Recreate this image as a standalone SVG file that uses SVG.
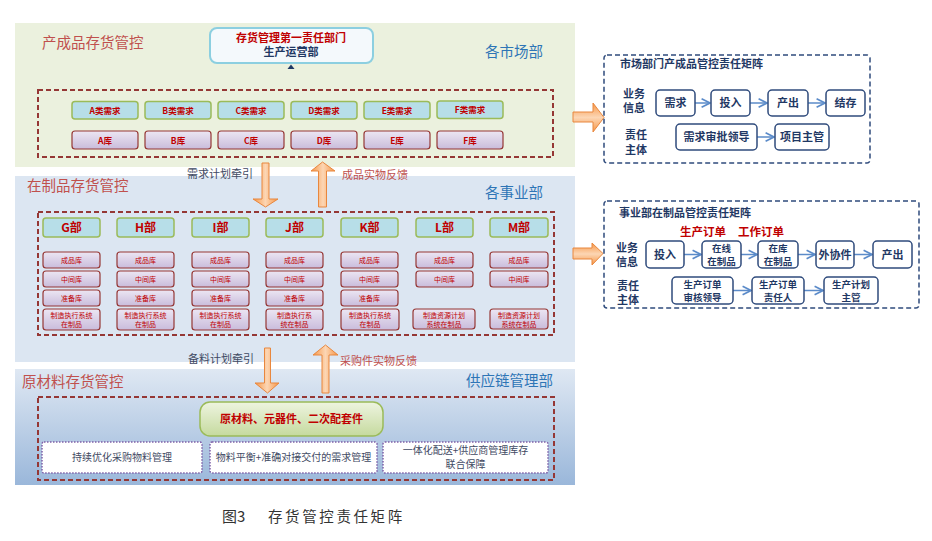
<svg xmlns="http://www.w3.org/2000/svg" width="932" height="541" viewBox="0 0 932 541">
<defs>
<linearGradient id="gPurple" x1="0" y1="0" x2="0" y2="1"><stop offset="0" stop-color="#ece6f3"/><stop offset="1" stop-color="#c9bcdb"/></linearGradient>
<linearGradient id="gP3" x1="0" y1="0" x2="0" y2="1"><stop offset="0" stop-color="#dfe8f3"/><stop offset="1" stop-color="#9ab7da"/></linearGradient>
<linearGradient id="gGreen" x1="0" y1="0" x2="0" y2="1"><stop offset="0" stop-color="#eef4e0"/><stop offset="1" stop-color="#c5da9e"/></linearGradient>
<linearGradient id="gOrV" x1="0" y1="0" x2="1" y2="0"><stop offset="0" stop-color="#f79646"/><stop offset="0.5" stop-color="#fcd6b4"/><stop offset="1" stop-color="#f79646"/></linearGradient>
<linearGradient id="gOrH" x1="0" y1="0" x2="0" y2="1"><stop offset="0" stop-color="#f79646"/><stop offset="0.5" stop-color="#fcd6b4"/><stop offset="1" stop-color="#f79646"/></linearGradient>
<marker id="ar" viewBox="0 0 10 10" refX="9" refY="5" markerWidth="7" markerHeight="7" orient="auto"><path d="M1,1 L9,5 L1,9" fill="none" stroke="#5b8bc9" stroke-width="1.6"/></marker>
<style>
text{font-family:"Noto Sans CJK SC","Noto Sans",sans-serif}
.ttl{font-size:14.5px;fill:#c0504d}
.dep{font-size:14.5px;fill:#2e75b6}
.dash{fill:none;stroke:#953735;stroke-width:2;stroke-dasharray:5 3}
.bl{fill:#b7dee8;stroke:#9bbb59;stroke-width:1.5}
.pu{fill:url(#gPurple);stroke:#953735;stroke-width:1.2}
.rt{font-size:8.5px;fill:#c00000;font-weight:bold;text-anchor:middle}
.rs{font-size:7px;fill:#c00000;text-anchor:middle}
.dt{font-size:12px;fill:#c00000;font-weight:bold;text-anchor:middle}
.lab{font-size:11px;fill:#3f4a63}
.labr{font-size:11px;fill:#c0504d}
.or{fill:url(#gOrV);stroke:#e8873e;stroke-width:1}
.orh{fill:url(#gOrH);stroke:#e8873e;stroke-width:1}
.dot{fill:#ffffff;stroke:#7f60a8;stroke-width:1.5;stroke-dasharray:1.5 1.5}
.dtx{font-size:10px;fill:#3f4a63;text-anchor:middle}
.nd{fill:none;stroke:#2f4b7c;stroke-width:1.5;stroke-dasharray:5 3}
.wb{fill:#ffffff;stroke:#2f4b7c;stroke-width:1.5}
.wt{font-size:11px;fill:#1f3864;font-weight:bold;text-anchor:middle}
.wt2{font-size:9.5px;fill:#1f3864;font-weight:bold;text-anchor:middle}
.rl{font-size:11px;fill:#1f3864;font-weight:bold}
.rr{font-size:11.5px;fill:#c00000;font-weight:bold}
.cn{fill:none;stroke:#5b8bc9;stroke-width:1.5;marker-end:url(#ar)}
</style>
</defs>
<rect width="932" height="541" fill="#ffffff"/>

<!-- Panel 1 -->
<g id="panel-finished">
<rect x="15" y="23" width="560" height="144" fill="#ebf1de"/>
<text class="ttl" x="42" y="48">产成品存货管控</text>
<text class="dep" x="485" y="57">各市场部</text>
<rect x="210" y="28" width="163" height="35" rx="7" fill="#f4f9fc" stroke="#8ccfe0" stroke-width="2"/>
<text x="291" y="41.5" font-size="11px" fill="#c00000" font-weight="bold" text-anchor="middle">存货管理第一责任部门</text>
<text x="291" y="56" font-size="11px" fill="#1f3864" font-weight="bold" text-anchor="middle">生产运营部</text>
<path d="M287.5,69 L291,64.5 L294.5,69 Z" fill="#1f3864"/>
<rect class="dash" x="38" y="90" width="515" height="67"/>
</g>
<g id="demand-row">
<rect class="bl" x="72" y="101.5" width="66" height="17.5" rx="3"/><text class="rt" x="105" y="113.5">A类需求</text>
<rect class="bl" x="145" y="101.5" width="66" height="17.5" rx="3"/><text class="rt" x="178" y="113.5">B类需求</text>
<rect class="bl" x="218" y="101.5" width="66" height="17.5" rx="3"/><text class="rt" x="251" y="113.5">C类需求</text>
<rect class="bl" x="291" y="101.5" width="66" height="17.5" rx="3"/><text class="rt" x="324" y="113.5">D类需求</text>
<rect class="bl" x="364" y="101.5" width="66" height="17.5" rx="3"/><text class="rt" x="397" y="113.5">E类需求</text>
<rect class="bl" x="437" y="101" width="66" height="17.5" rx="3"/><text class="rt" x="470" y="113">F类需求</text>
</g>
<g id="store-row">
<rect class="pu" x="72" y="131" width="66" height="18" rx="3"/><text class="rt" x="105" y="143.5" font-weight="normal">A库</text>
<rect class="pu" x="145" y="131" width="66" height="18" rx="3"/><text class="rt" x="178" y="143.5" font-weight="normal">B库</text>
<rect class="pu" x="218" y="131" width="66" height="18" rx="3"/><text class="rt" x="251" y="143.5" font-weight="normal">C库</text>
<rect class="pu" x="291" y="131" width="66" height="18" rx="3"/><text class="rt" x="324" y="143.5" font-weight="normal">D库</text>
<rect class="pu" x="364" y="131" width="66" height="18" rx="3"/><text class="rt" x="397" y="143.5" font-weight="normal">E库</text>
<rect class="pu" x="437" y="131" width="66" height="18" rx="3"/><text class="rt" x="470" y="143.5" font-weight="normal">F库</text>
</g>

<!-- Panel 2 -->
<g id="panel-wip">
<rect x="15" y="176" width="560" height="186" fill="#dce6f2"/>
<text class="ttl" x="27" y="191">在制品存货管控</text>
<text class="dep" x="485" y="198">各事业部</text>
<rect class="dash" x="38" y="212" width="516" height="123"/>
</g>
<g id="dept-G">
<rect class="bl" x="43" y="218" width="57" height="19" rx="3"/><text class="dt" x="71.5" y="232">G部</text>
<rect class="pu" x="43" y="252" width="57" height="16" rx="3"/><text class="rs" x="71.5" y="263">成品库</text>
<rect class="pu" x="43" y="271" width="57" height="16" rx="3"/><text class="rs" x="71.5" y="282">中间库</text>
<rect class="pu" x="43" y="290" width="57" height="16" rx="3"/><text class="rs" x="71.5" y="301">准备库</text>
<rect class="pu" x="43" y="309" width="57" height="21" rx="3"/><text class="rs" x="71.5" y="318">制造执行系统</text><text class="rs" x="71.5" y="327">在制品</text>
</g>
<g id="dept-H">
<rect class="bl" x="117" y="218" width="57" height="19" rx="3"/><text class="dt" x="145.5" y="232">H部</text>
<rect class="pu" x="117" y="252" width="57" height="16" rx="3"/><text class="rs" x="145.5" y="263">成品库</text>
<rect class="pu" x="117" y="271" width="57" height="16" rx="3"/><text class="rs" x="145.5" y="282">中间库</text>
<rect class="pu" x="117" y="290" width="57" height="16" rx="3"/><text class="rs" x="145.5" y="301">准备库</text>
<rect class="pu" x="117" y="309" width="57" height="21" rx="3"/><text class="rs" x="145.5" y="318">制造执行系统</text><text class="rs" x="145.5" y="327">在制品</text>
</g>
<g id="dept-I">
<rect class="bl" x="192" y="218" width="57" height="19" rx="3"/><text class="dt" x="220.5" y="232">I部</text>
<rect class="pu" x="192" y="252" width="57" height="16" rx="3"/><text class="rs" x="220.5" y="263">成品库</text>
<rect class="pu" x="192" y="271" width="57" height="16" rx="3"/><text class="rs" x="220.5" y="282">中间库</text>
<rect class="pu" x="192" y="290" width="57" height="16" rx="3"/><text class="rs" x="220.5" y="301">准备库</text>
<rect class="pu" x="192" y="309" width="57" height="21" rx="3"/><text class="rs" x="220.5" y="318">制造执行系统</text><text class="rs" x="220.5" y="327">在制品</text>
</g>
<g id="dept-J">
<rect class="bl" x="266" y="218" width="57" height="19" rx="3"/><text class="dt" x="294.5" y="232">J部</text>
<rect class="pu" x="266" y="252" width="57" height="16" rx="3"/><text class="rs" x="294.5" y="263">成品库</text>
<rect class="pu" x="266" y="271" width="57" height="16" rx="3"/><text class="rs" x="294.5" y="282">中间库</text>
<rect class="pu" x="266" y="290" width="57" height="16" rx="3"/><text class="rs" x="294.5" y="301">准备库</text>
<rect class="pu" x="266" y="309" width="57" height="21" rx="3"/><text class="rs" x="294.5" y="318">制造执行系</text><text class="rs" x="294.5" y="327">统在制品</text>
</g>
<g id="dept-K">
<rect class="bl" x="341" y="218" width="57" height="19" rx="3"/><text class="dt" x="369.5" y="232">K部</text>
<rect class="pu" x="341" y="252" width="57" height="16" rx="3"/><text class="rs" x="369.5" y="263">成品库</text>
<rect class="pu" x="341" y="271" width="57" height="16" rx="3"/><text class="rs" x="369.5" y="282">中间库</text>
<rect class="pu" x="341" y="290" width="57" height="16" rx="3"/><text class="rs" x="369.5" y="301">准备库</text>
<rect class="pu" x="341" y="309" width="58" height="21" rx="3"/><text class="rs" x="370" y="318">制造执行系统</text><text class="rs" x="370" y="327">在制品</text>
</g>
<g id="dept-L">
<rect class="bl" x="416" y="218" width="57" height="19" rx="3"/><text class="dt" x="444.5" y="232">L部</text>
<rect class="pu" x="416" y="252" width="57" height="16" rx="3"/><text class="rs" x="444.5" y="263">成品库</text>
<rect class="pu" x="416" y="271" width="57" height="16" rx="3"/><text class="rs" x="444.5" y="282">中间库</text>
<rect class="pu" x="413" y="309" width="62" height="20" rx="3"/><text class="rs" x="444" y="318">制造资源计划</text><text class="rs" x="444" y="327">系统在制品</text>
</g>
<g id="dept-M">
<rect class="bl" x="490" y="218" width="58" height="19" rx="3"/><text class="dt" x="519" y="232">M部</text>
<rect class="pu" x="490" y="252" width="58" height="16" rx="3"/><text class="rs" x="519" y="263">成品库</text>
<rect class="pu" x="490" y="271" width="58" height="16" rx="3"/><text class="rs" x="519" y="282">中间库</text>
<rect class="pu" x="490" y="309" width="58" height="20" rx="3"/><text class="rs" x="519" y="318">制造资源计划</text><text class="rs" x="519" y="327">系统在制品</text>
</g>

<!-- Panel 3 -->
<g id="panel-raw">
<rect x="15" y="369" width="560" height="116" fill="url(#gP3)"/>
<text class="ttl" x="22" y="387">原材料存货管控</text>
<text class="dep" x="466" y="386">供应链管理部</text>
<rect class="dash" x="38" y="397" width="516" height="83"/>
</g>
<g id="raw-materials">
<rect x="200" y="402" width="183" height="34" rx="10" fill="url(#gGreen)" stroke="#9bbb59" stroke-width="1.5"/>
<text x="291.5" y="423" font-size="11px" fill="#c00000" font-weight="bold" text-anchor="middle">原材料、元器件、二次配套件</text>
</g>
<g id="measure-1">
<rect class="dot" x="42" y="442" width="160" height="31" rx="2"/>
<text class="dtx" x="122" y="461">持续优化采购物料管理</text>
</g>
<g id="measure-2">
<rect class="dot" x="210" y="442" width="167" height="31" rx="2"/>
<text class="dtx" x="293.5" y="461">物料平衡+准确对接交付的需求管理</text>
</g>
<g id="measure-3">
<rect class="dot" x="383" y="442" width="165" height="31" rx="2"/>
<text class="dtx" x="465.5" y="454">一体化配送+供应商管理库存</text>
<text class="dtx" x="465.5" y="467.5">联合保障</text>
</g>

<!-- Connectors -->
<g id="connectors">
<path class="or" d="M262,163 L269,163 L269,199 L278,199 L265.5,207 L253,199 L262,199 Z"/>
<path class="or" d="M318.5,207 L326.5,207 L326.5,171 L335,171 L322.5,162 L311,171 L318.5,171 Z"/>
<text class="lab" x="187" y="178">需求计划牵引</text>
<text class="labr" x="342" y="179">成品实物反馈</text>
<path class="or" d="M264.5,348 L270.5,348 L270.5,383 L279,383 L267.5,393 L255,383 L264.5,383 Z"/>
<path class="or" d="M322,393 L329,393 L329,355 L338,355 L325.5,345 L313,355 L322,355 Z"/>
<text class="lab" x="188" y="363">备料计划牵引</text>
<text class="labr" x="340" y="365">采购件实物反馈</text>
<path class="orh" d="M573,112 L593,112 L593,103 L604,117.5 L593,132 L593,122 L573,122 Z"/>
<path class="orh" d="M573,248 L592,248 L592,243 L603,253.5 L592,265 L592,259 L573,259 Z"/>
<line class="cn" x1="695" y1="103" x2="710" y2="103"/>
<line class="cn" x1="750" y1="103" x2="767" y2="103"/>
<line class="cn" x1="808" y1="103" x2="825" y2="103"/>
<line class="cn" x1="757" y1="137" x2="774" y2="137"/>
<line class="cn" x1="684" y1="254.5" x2="701" y2="254.5"/>
<line class="cn" x1="741" y1="254.5" x2="757" y2="254.5"/>
<line class="cn" x1="798" y1="254.5" x2="815" y2="254.5"/>
<line class="cn" x1="854" y1="254.5" x2="872" y2="254.5"/>
<line class="cn" x1="733" y1="290.5" x2="751" y2="290.5"/>
<line class="cn" x1="804" y1="290.5" x2="823" y2="290.5"/>
</g>

<!-- Right panel 1 -->
<g id="matrix-market">
<rect class="nd" x="604" y="55" width="266" height="108" rx="3"/>
<text class="rl" x="620" y="68">市场部门产成品管控责任矩阵</text>
<text class="rl" x="623" y="97.5">业务</text>
<text class="rl" x="623" y="112">信息</text>
<text class="rl" x="625" y="139">责任</text>
<text class="rl" x="625" y="153.5">主体</text>
</g>
<g id="m-demand"><rect class="wb" x="656" y="90" width="39" height="26" rx="4"/><text class="wt" x="675.5" y="107">需求</text></g>
<g id="m-input"><rect class="wb" x="711" y="90" width="39" height="26" rx="4"/><text class="wt" x="730.5" y="107">投入</text></g>
<g id="m-output"><rect class="wb" x="768" y="90" width="40" height="26" rx="4"/><text class="wt" x="788" y="107">产出</text></g>
<g id="m-stock"><rect class="wb" x="826" y="90" width="39" height="26" rx="4"/><text class="wt" x="845.5" y="107">结存</text></g>
<g id="m-approver"><rect class="wb" x="676" y="124" width="81" height="26" rx="4"/><text class="wt" x="716.5" y="141">需求审批领导</text></g>
<g id="m-manager"><rect class="wb" x="775" y="124" width="54" height="26" rx="4"/><text class="wt" x="802" y="141">项目主管</text></g>

<!-- Right panel 2 -->
<g id="matrix-division">
<rect class="nd" x="604" y="201" width="315" height="107" rx="3"/>
<text class="rl" x="619" y="217">事业部在制品管控责任矩阵</text>
<text class="rr" x="680" y="236">生产订单</text>
<text class="rr" x="738" y="236">工作订单</text>
<text class="rl" x="616" y="251.5">业务</text>
<text class="rl" x="616" y="266">信息</text>
<text class="rl" x="617" y="289.5">责任</text>
<text class="rl" x="617" y="304">主体</text>
</g>
<g id="d-input"><rect class="wb" x="646" y="241" width="38" height="27" rx="4"/><text class="wt" x="665" y="258.5">投入</text></g>
<g id="d-online"><rect class="wb" x="702" y="241" width="39" height="27" rx="4"/><text class="wt2" x="721.5" y="252">在线</text><text class="wt2" x="721.5" y="265">在制品</text></g>
<g id="d-instock"><rect class="wb" x="758" y="241" width="40" height="27" rx="4"/><text class="wt2" x="778" y="252">在库</text><text class="wt2" x="778" y="265">在制品</text></g>
<g id="d-outsource"><rect class="wb" x="816" y="241" width="38" height="27" rx="4"/><text class="wt" x="835" y="258.5">外协件</text></g>
<g id="d-output"><rect class="wb" x="873" y="241" width="39" height="27" rx="4"/><text class="wt" x="892.5" y="258.5">产出</text></g>
<g id="d-reviewer"><rect class="wb" x="672" y="277" width="61" height="27" rx="4"/><text class="wt2" x="702.5" y="288">生产订单</text><text class="wt2" x="702.5" y="301">审核领导</text></g>
<g id="d-owner"><rect class="wb" x="752" y="277" width="52" height="27" rx="4"/><text class="wt2" x="778" y="288">生产订单</text><text class="wt2" x="778" y="301">责任人</text></g>
<g id="d-planner"><rect class="wb" x="824" y="277" width="54" height="27" rx="4"/><text class="wt2" x="851" y="288">生产计划</text><text class="wt2" x="851" y="301">主管</text></g>

<g id="caption">
<text x="222" y="522" font-family="'Noto Serif CJK SC','Liberation Serif',serif" font-size="15px" fill="#333333">图3</text>
<text x="268" y="522" font-family="'Noto Serif CJK SC','Liberation Serif',serif" font-size="14.5px" fill="#333333" letter-spacing="2.6">存货管控责任矩阵</text>
</g>
</svg>
